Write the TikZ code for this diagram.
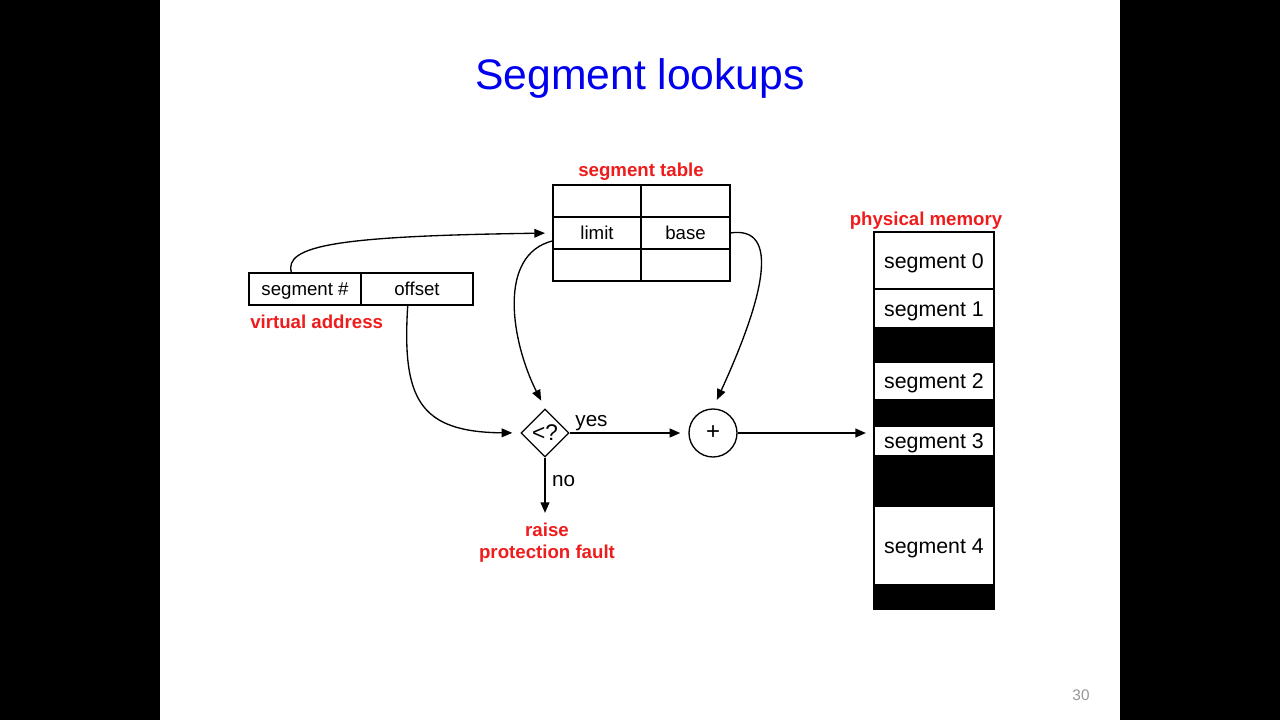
\documentclass[tikz,border=0pt]{standalone}
\usepackage{fontspec}
\setmainfont{Liberation Sans}
\usetikzlibrary{arrows.meta, positioning, shapes.geometric}
\definecolor{slidered}{RGB}{238,28,28}
\definecolor{slideblue}{RGB}{0,0,238}
\definecolor{pagegray}{RGB}{150,150,150}

\begin{document}
\begin{tikzpicture}[
    x=0.75pt,
    y=-0.75pt,
    >={Triangle[length=8pt, width=6.5pt]},
    cell/.style={draw, line width=1.5pt, outer sep=0pt, inner sep=0pt,
                 minimum width=66pt, minimum height=24pt,
                 text height=10.3pt, text depth=0pt,
                 font=\fontsize{14}{16}\selectfont},
    field/.style={draw, line width=1.1pt, outer sep=0pt, inner sep=0pt,
                  minimum width=84pt, minimum height=24pt,
                  text height=10.3pt, text depth=0pt,
                  font=\fontsize{14}{16}\selectfont},
    mem/.style={draw, line width=1pt, outer sep=0pt, inner sep=0pt,
                minimum width=90pt, text height=11.5pt, text depth=0pt,
                font=\fontsize{16}{18}\selectfont},
    hole/.style={mem, fill=black},
    caption/.style={text=slidered, inner sep=0pt,
                    font=\bfseries\fontsize{14}{16.5}\selectfont},
    answer/.style={inner sep=0pt, font=\fontsize{15.5}{17}\selectfont},
    flow/.style={->, line width=1.5pt},
    link/.style={->, line width=1pt},
]

    \useasboundingbox (0,0) rectangle (1280,720);
    \fill (0,0) rectangle (160,720);
    \fill (1120,0) rectangle (1280,720);

    % title and page number
    \node[anchor=base, text=slideblue, font=\fontsize{32}{36}\selectfont] (title) at (640,90) {Segment lookups};
    \node[anchor=base, text=pagegray, font=\fontsize{11.5}{13}\selectfont] (page) at (1081,700) {30};

    % virtual address
    \node[field, anchor=north west] (segnum) at (249,273) {segment \#};
    \node[field, right=0pt of segnum] (offset) {offset};
    \node[caption, anchor=base west] (vaddr) at (250,328) {virtual address};

    % segment table
    \node[cell, anchor=north west] (t11) at (553,185) {};
    \node[cell, right=0pt of t11, minimum width=66.75pt] (t12) {};
    \node[cell, below=0pt of t11] (limit) {limit};
    \node[cell, right=0pt of limit, minimum width=66.75pt] (base) {base};
    \node[cell, below=0pt of limit] (t31) {};
    \node[cell, right=0pt of t31, minimum width=66.75pt] (t32) {};
    \node[caption, anchor=base] (tname) at (641,176.5) {segment table};

    % physical memory
    \node[mem, anchor=north west, minimum height=42.75pt] (seg0) at (874,232) {segment 0};
    \node[mem, below=0pt of seg0, minimum height=29.25pt] (seg1) {segment 1};
    \node[hole, below=0pt of seg1, minimum height=25.5pt] (gap1) {};
    \node[mem, below=0pt of gap1, minimum height=28.5pt] (seg2) {segment 2};
    \node[hole, below=0pt of seg2, minimum height=19.5pt] (gap2) {};
    \node[mem, below=0pt of gap2, minimum height=22.5pt] (seg3) {segment 3};
    \node[hole, below=0pt of seg3, minimum height=37.5pt] (gap3) {};
    \node[mem, below=0pt of gap3, minimum height=59.25pt] (seg4) {segment 4};
    \node[hole, below=0pt of seg4, minimum height=18pt] (gap4) {};
    \node[caption, anchor=base] (pname) at (926,225) {physical memory};

    % check and add
    \node[diamond, draw, line width=1pt, inner sep=0pt, minimum size=36pt,
          font=\fontsize{17}{19}\selectfont] (check) at (545,433) {<?};
    \node[circle, draw, line width=1pt, inner sep=0pt, minimum size=36pt,
          font=\fontsize{18}{20}\selectfont] (add) at (713,433) {+};
    \node[caption, anchor=north, align=center] (fault) at (547,523) {raise\\protection fault};

    % lookups
    \draw[link, shorten >=6pt] (segnum.130) .. controls +(-9,-28) and +(-213,3) .. (limit.west);
    \draw[link, shorten >=6.5pt] (limit.190) .. controls +(-57,14) and +(-33,-65) .. (check.north);
    \draw[link, shorten >=7pt] (base.east) .. controls +(52,-8) and +(50,-109) .. (add.north);
    \draw[link, shorten >=6pt] (offset.240) .. controls +(-6,94) and +(-101,-1) .. (check.west);

    \draw[flow, shorten >=6pt] (check.east) -- node[answer, pos=0.04, anchor=base west, yshift=5pt] {yes} (add.west);
    \draw[flow, shorten >=7.5pt] (check.south) -- node[answer, pos=0.36, anchor=west, xshift=4.5pt] {no} (check.south |- fault.north);
    \draw[flow, shorten >=6pt] (add.east) -- (add.east -| seg3.west);

\end{tikzpicture}
\end{document}
